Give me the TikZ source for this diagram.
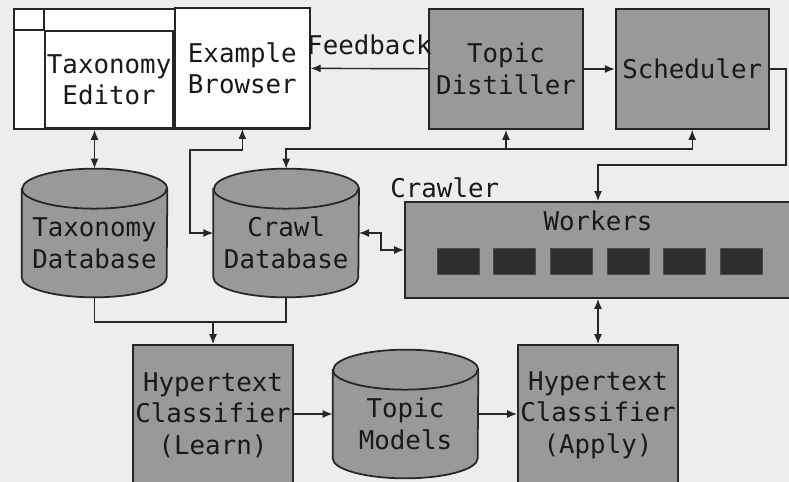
\documentclass[tikz,border=0pt]{standalone}
\usepackage{fontspec}
\setmonofont{DejaVu Sans Mono}
\usepackage{tikz}
\usetikzlibrary{arrows.meta,positioning,calc,backgrounds}

\begin{document}
\begin{tikzpicture}[x=0.02cm, y=-0.02cm, >={Latex[length=2mm,width=1.6mm]}, font=\ttfamily\fontsize{14.7}{18}\selectfont]

\tikzstyle{panel} = [rectangle, draw=black!85, line width=1pt, fill=white, text=black!90, align=center, inner sep=0pt]
\tikzstyle{module} = [rectangle, draw=black!85, line width=1pt, fill=black!40, text=black!90, align=center, inner sep=0pt, minimum width=3.2cm, minimum height=2.4cm]
\tikzstyle{store} = [rectangle, inner sep=0pt, minimum width=2.9cm, minimum height=2.56cm]
\tikzstyle{storetext} = [align=center, text=black!90, yshift=-0.2cm]
\tikzstyle{drum} = [draw=black!85, line width=1pt, fill=black!40]
\tikzstyle{worker} = [rectangle, draw=black!70, fill=black!82, inner sep=0pt, minimum width=0.84cm, minimum height=0.52cm]
\tikzstyle{line} = [line width=0.8pt, black!85]
\tikzstyle{arrow} = [line, ->]
\tikzstyle{link} = [line, <->]

\useasboundingbox (0,0) rectangle (789,482);
\clip (0,0) rectangle (789,482);

% user interface
\node (gui) [panel, minimum width=5.9cm, minimum height=2.4cm] at (161.5,69) {};
\node (editor) [panel, anchor=south east, minimum width=2.56cm, minimum height=1.94cm] at (174,129) {Taxonomy\\Editor};
\node (browser) [panel, anchor=south west, minimum width=2.7cm, minimum height=2.4cm] at (editor.south east) {Example\\Browser};
\draw [line, line width=1pt] (editor.north west) -- (editor.north west -| gui.west);
\draw [line, line width=1pt] (editor.north west) -- (editor.north west |- gui.north);

\node (dist) [module, minimum width=3.08cm] at (506,69) {Topic\\Distiller};
\node (sched) [module, right=0.62cm of dist, minimum width=3.06cm] {Scheduler};

% databases
\node (taxdb) [store, label={[storetext]center:Taxonomy\\Database}] at (94.5,233) {};
\node (crawldb) [store, right=0.92cm of taxdb, label={[storetext]center:Crawl\\Database}] {};

% crawler
\node (workers) [module, minimum width=7.72cm, minimum height=1.92cm] at (598,250) {};
\node (wtitle) [anchor=base, text=black!90] at (598,231) {Workers};
\node (crawler) [anchor=base west, inner sep=0pt, text=black!90] at (390,198) {Crawler};
\node (w1) [worker] at (458,261) {};
\node (w2) [worker, right=0.28cm of w1] {};
\node (w3) [worker, right=0.28cm of w2] {};
\node (w4) [worker, right=0.28cm of w3] {};
\node (w5) [worker, right=0.28cm of w4] {};
\node (w6) [worker, right=0.28cm of w5] {};

% classifiers
\node (learn) [module, minimum height=2.8cm] at (213,415) {Hypertext\\Classifier\\(Learn)};
\node (models) [store, label={[storetext]center:Topic\\Models}] at (405.5,414) {};
\node (apply) [module, minimum height=2.8cm] at (598,415) {Hypertext\\Classifier\\(Apply)};

\begin{pgfonlayer}{background}
\fill[black!7] (0,0) rectangle (789,482);
\foreach \db in {taxdb,crawldb,models} {
  \draw [drum] ([yshift=-0.4cm]\db.north west) -- ([yshift=0.4cm]\db.south west)
    arc [start angle=180, end angle=360, x radius=1.45cm, y radius=0.4cm]
    -- ([yshift=-0.4cm]\db.north east)
    arc [start angle=0, end angle=180, x radius=1.45cm, y radius=0.4cm] -- cycle;
  \draw [drum, fill=none] ([yshift=-0.4cm]\db.north west)
    arc [start angle=180, end angle=360, x radius=1.45cm, y radius=0.4cm];
}
\end{pgfonlayer}

\coordinate (bus) at (0,149);
\coordinate (lbus) at (190,150);
\coordinate (merge) at (0,322);
\coordinate (turn) at (786,165);

\draw [link] (gui.south -| taxdb.north) -- (taxdb.north);
\draw [arrow] (dist) -- node[above, yshift=0.14cm, text=black!90] {Feedback} (browser);
\draw [arrow] (dist) -- (sched);
\draw [arrow] (sched.east) -| (turn) -| (workers.north -| apply.north);
\draw [link] (crawldb.north) |- (bus -| sched.south) -- (sched.south);
\draw [arrow] (bus -| dist.south) -- (dist.south);
\draw [link] (browser.south) |- (lbus) |- (crawldb.west);
\draw [link] (crawldb.east) -- ++(22,0) |- (workers.west);
\draw [line] (taxdb.south) |- (merge -| crawldb.south) -- (crawldb.south);
\draw [arrow] (merge -| learn.north) -- (learn.north);
\draw [link] (workers.south -| apply.north) -- (apply.north);
\draw [arrow] (learn.east |- models.west) -- (models.west);
\draw [arrow] (models.east) -- (apply.west |- models.east);
\end{tikzpicture}
\end{document}
